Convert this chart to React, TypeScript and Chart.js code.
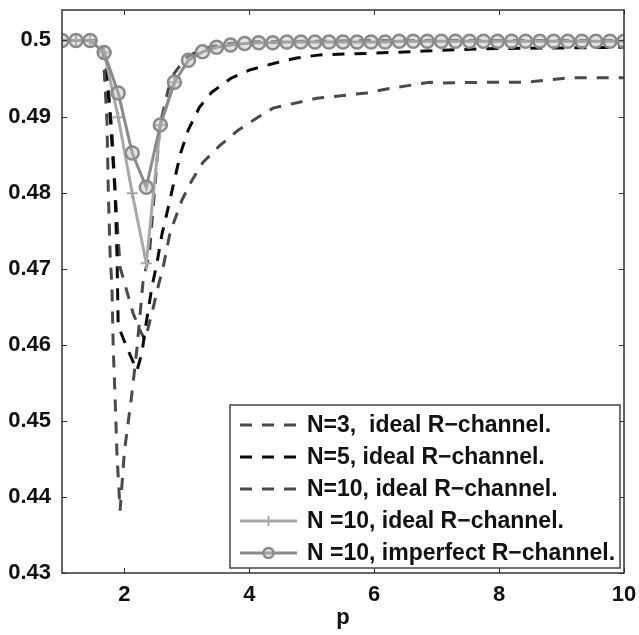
import React, { useEffect, useRef } from "react";
import { Chart, registerables } from "chart.js";

Chart.register(...registerables);

// ---- data ----
const xTickValues = [2, 4, 6, 8, 10];
const yTickValues = [0.43, 0.44, 0.45, 0.46, 0.47, 0.48, 0.49, 0.5];

const seriesLabels = [
  "N=3,  ideal R\u2212channel.",
  "N=5, ideal R\u2212channel.",
  "N=10, ideal R\u2212channel.",
  "N =10, ideal R\u2212channel.",
  "N =10, imperfect R\u2212channel.",
];

// N=3 ideal (dashed, dark gray)
const pN3 = [1, 1.4, 1.6, 1.66, 1.72, 1.74, 1.77, 1.8, 1.82, 1.85, 1.88, 1.91, 1.93, 2.0, 2.12, 2.2, 2.3, 2.4, 2.5, 2.57, 2.7, 2.8, 2.9, 3.0, 3.2, 3.4, 3.7, 4.0, 5.0, 6.0, 8.0, 10];
const vN3 = [0.5, 0.5, 0.4998, 0.4984, 0.4895, 0.4807, 0.472, 0.4676, 0.4597, 0.4531, 0.4457, 0.4412, 0.4382, 0.446, 0.4536, 0.4595, 0.4685, 0.472, 0.482, 0.4889, 0.4935, 0.4957, 0.4968, 0.4978, 0.4987, 0.4992, 0.4996, 0.4998, 0.4999, 0.5, 0.5, 0.5];

// N=5 ideal (dashed, black)
const pN5 = [1, 1.5, 1.65, 1.7, 1.78, 1.85, 1.88, 1.9, 2.04, 2.2, 2.28, 2.33, 2.38, 2.44, 2.52, 2.6, 2.7, 2.81, 2.9, 3.02, 3.2, 3.4, 3.7, 4.0, 4.4, 4.76, 5.13, 5.9, 6.8, 7.7, 8.8, 10];
const vN5 = [0.5, 0.5, 0.4995, 0.497, 0.489, 0.48, 0.472, 0.4625, 0.4596, 0.4566, 0.4589, 0.4619, 0.4645, 0.4676, 0.4707, 0.4745, 0.478, 0.482, 0.4852, 0.4882, 0.4912, 0.4932, 0.495, 0.4961, 0.497, 0.4977, 0.4981, 0.4983, 0.4986, 0.4989, 0.499, 0.4991];

// N=10 ideal (dashed, dark gray)
const pN10 = [1, 1.5, 1.65, 1.72, 1.8, 1.86, 1.93, 2.04, 2.14, 2.25, 2.33, 2.45, 2.55, 2.62, 2.73, 2.92, 3.08, 3.26, 3.53, 3.82, 4.12, 4.38, 5.08, 5.88, 6.25, 6.89, 7.1, 7.74, 8.44, 9.13, 10];
const vN10 = [0.5, 0.5, 0.4995, 0.496, 0.488, 0.479, 0.4702, 0.467, 0.4641, 0.4619, 0.4606, 0.4645, 0.468, 0.4702, 0.4747, 0.479, 0.4816, 0.484, 0.4862, 0.4882, 0.4898, 0.4911, 0.4924, 0.4931, 0.4937, 0.4945, 0.4944, 0.4945, 0.4945, 0.4951, 0.4951];

// N=10 ideal, marked (+)
const pCross = [1, 1.225, 1.45, 1.675, 1.9, 2.125, 2.35, 2.575, 2.8];
const vCross = [0.5, 0.5, 0.5, 0.4984, 0.4899, 0.4799, 0.4707, 0.4889, 0.4945];

// N=10 imperfect, marked (o)
const pCircle = [1, 1.225, 1.45, 1.675, 1.9, 2.125, 2.35, 2.575, 2.8, 3.025, 3.25, 3.475, 3.7, 3.925, 4.15, 4.375, 4.6, 4.825, 5.05, 5.275, 5.5, 5.725, 5.95, 6.175, 6.4, 6.625, 6.85, 7.075, 7.3, 7.525, 7.75, 7.975, 8.2, 8.425, 8.65, 8.875, 9.1, 9.325, 9.55, 9.775, 10];
const vCircle = [0.5, 0.5, 0.5, 0.4984, 0.4931, 0.4852, 0.4807, 0.4889, 0.4945, 0.4974, 0.4985, 0.4991, 0.4994, 0.4996, 0.4997, 0.4997, 0.4998, 0.4998, 0.4998, 0.4998, 0.4998, 0.4998, 0.4998, 0.4998, 0.4999, 0.4999, 0.4999, 0.4999, 0.4999, 0.4999, 0.4999, 0.4999, 0.4999, 0.4999, 0.4999, 0.4999, 0.4999, 0.4999, 0.4999, 0.4999, 0.4999];

const FONT = "'Liberation Sans', Arial, Helvetica, sans-serif";
const FONT_SIZE = 22;
const LEGEND_FONT_SIZE = 23;

const toXY = (p: number[], v: number[]) => p.map((x, i) => ({ x, y: v[i] }));

const frameAndLegend = {
  id: "frameAndLegend",
  afterDraw(chart: any) {
    const { ctx, chartArea } = chart;
    const { left, right, top, bottom } = chartArea;
    const xs = chart.scales.x;
    const ys = chart.scales.y;
    ctx.save();
    // frame
    ctx.strokeStyle = "#333";
    ctx.lineWidth = 1.5;
    ctx.setLineDash([]);
    ctx.strokeRect(left, top, right - left, bottom - top);
    // inner ticks
    ctx.lineWidth = 1;
    const tl = 5;
    ctx.beginPath();
    for (const v of xTickValues) {
      const px = Math.round(xs.getPixelForValue(v)) + 0.5;
      ctx.moveTo(px, bottom);
      ctx.lineTo(px, bottom - tl);
      ctx.moveTo(px, top);
      ctx.lineTo(px, top + tl);
    }
    for (const v of yTickValues) {
      const py = Math.round(ys.getPixelForValue(v)) + 0.5;
      ctx.moveTo(left, py);
      ctx.lineTo(left + tl, py);
      ctx.moveTo(right, py);
      ctx.lineTo(right - tl, py);
    }
    ctx.stroke();

    // legend box
    const bw = 390;
    const bh = 163;
    const bx = right - 4 - bw;
    const by = bottom - 5 - bh;
    ctx.fillStyle = "#fff";
    ctx.fillRect(bx, by, bw, bh);
    ctx.strokeStyle = "#444";
    ctx.lineWidth = 1.5;
    ctx.strokeRect(bx, by, bw, bh);

    const order = [2, 3, 4, 1, 0]; // dataset indices in legend order
    order.forEach((di, row) => {
      const ds = chart.data.datasets[di];
      const cy = by + 20 + row * 32;
      const x0 = bx + 10;
      const x1 = bx + 67;
      ctx.save();
      ctx.strokeStyle = ds.borderColor;
      ctx.lineWidth = ds.borderWidth;
      ctx.setLineDash(ds.borderDash || []);
      ctx.beginPath();
      ctx.moveTo(x0, cy);
      ctx.lineTo(x1, cy);
      ctx.stroke();
      ctx.setLineDash([]);
      const mx = (x0 + x1) / 2;
      if (ds.pointStyle === "circle" && ds.pointRadius > 0) {
        ctx.beginPath();
        ctx.arc(mx, cy, 5, 0, Math.PI * 2);
        ctx.fillStyle = ds.pointBackgroundColor;
        ctx.fill();
        ctx.lineWidth = ds.pointBorderWidth;
        ctx.strokeStyle = ds.pointBorderColor;
        ctx.stroke();
      } else if (ds.pointStyle === "cross" && ds.pointRadius > 0) {
        ctx.beginPath();
        ctx.moveTo(mx, cy - 5);
        ctx.lineTo(mx, cy + 5);
        ctx.lineWidth = ds.pointBorderWidth;
        ctx.strokeStyle = ds.pointBorderColor;
        ctx.stroke();
      }
      ctx.restore();
      ctx.fillStyle = "#111";
      ctx.font = `bold ${LEGEND_FONT_SIZE}px ${FONT}`;
      ctx.textBaseline = "middle";
      ctx.textAlign = "left";
      ctx.fillText(ds.label, bx + 77, cy + 1);
    });
    ctx.restore();
  },
};

export default function App() {
  const ref = useRef<HTMLCanvasElement | null>(null);

  useEffect(() => {
    if (!ref.current) return;
    const dashed = [12, 10];
    const chart = new Chart(ref.current, {
      type: "line",
      data: {
        datasets: [
          {
            label: seriesLabels[4],
            data: toXY(pCircle, vCircle),
            borderColor: "#8a8a8a",
            borderWidth: 3,
            pointStyle: "circle",
            pointRadius: 6.5,
            pointBorderWidth: 2.5,
            pointBorderColor: "#8a8a8a",
            pointBackgroundColor: "rgba(190,190,190,0.45)",
            order: 0,
          } as any,
          {
            label: seriesLabels[3],
            data: toXY(pCross, vCross),
            borderColor: "#a8a8a8",
            borderWidth: 3,
            pointStyle: "cross",
            pointRadius: 5.5,
            pointBorderWidth: 2,
            pointBorderColor: "#a8a8a8",
            pointBackgroundColor: "#a8a8a8",
            order: 1,
          } as any,
          {
            label: seriesLabels[0],
            data: toXY(pN3, vN3),
            borderColor: "#4a4a4a",
            borderWidth: 3,
            borderDash: dashed,
            pointRadius: 0,
            order: 2,
          } as any,
          {
            label: seriesLabels[1],
            data: toXY(pN5, vN5),
            borderColor: "#0a0a0a",
            borderWidth: 3,
            borderDash: dashed,
            pointRadius: 0,
            order: 3,
          } as any,
          {
            label: seriesLabels[2],
            data: toXY(pN10, vN10),
            borderColor: "#4a4a4a",
            borderWidth: 3,
            borderDash: dashed,
            pointRadius: 0,
            order: 4,
          } as any,
        ],
      },
      options: {
        responsive: false,
        animation: false,
        layout: { padding: { left: 0, top: 10, right: 15, bottom: 0 } },
        plugins: {
          legend: { display: false },
          tooltip: { enabled: false },
        },
        elements: { line: { tension: 0 } },
        scales: {
          x: {
            type: "linear",
            min: 1,
            max: 10,
            grid: { display: false },
            border: { display: false },
            afterBuildTicks: (s: any) => {
              s.ticks = xTickValues.map((v) => ({ value: v }));
            },
            afterFit: (s: any) => {
              s.height = 62;
              s.paddingLeft = 0;
              s.paddingRight = 0;
            },
            ticks: {
              padding: 1,
              color: "#111",
              font: { family: FONT, size: FONT_SIZE, weight: "bold" },
              maxRotation: 0,
              autoSkip: false,
            },
            title: {
              display: true,
              text: "p",
              color: "#111",
              padding: { top: 0, bottom: 4 },
              font: { family: FONT, size: FONT_SIZE, weight: "bold" },
            },
          },
          y: {
            type: "linear",
            min: 0.43,
            max: 0.504,
            grid: { display: false },
            border: { display: false },
            afterBuildTicks: (s: any) => {
              s.ticks = yTickValues.map((v) => ({ value: v }));
            },
            afterFit: (s: any) => {
              s.width = 62;
              s.paddingTop = 0;
              s.paddingBottom = 0;
            },
            ticks: {
              padding: 3,
              crossAlign: "near",
              color: "#111",
              font: { family: FONT, size: FONT_SIZE, weight: "bold" },
              autoSkip: false,
              callback: (v: any) => String(Number(v)),
            },
          },
        },
      } as any,
      plugins: [frameAndLegend],
    });
    return () => chart.destroy();
  }, []);

  return (
    <div style={{ position: "absolute", left: 0, top: 0, width: 639, height: 635, background: "#fff" }}>
      <canvas ref={ref} width={639} height={635} style={{ display: "block" }} />
    </div>
  );
}
